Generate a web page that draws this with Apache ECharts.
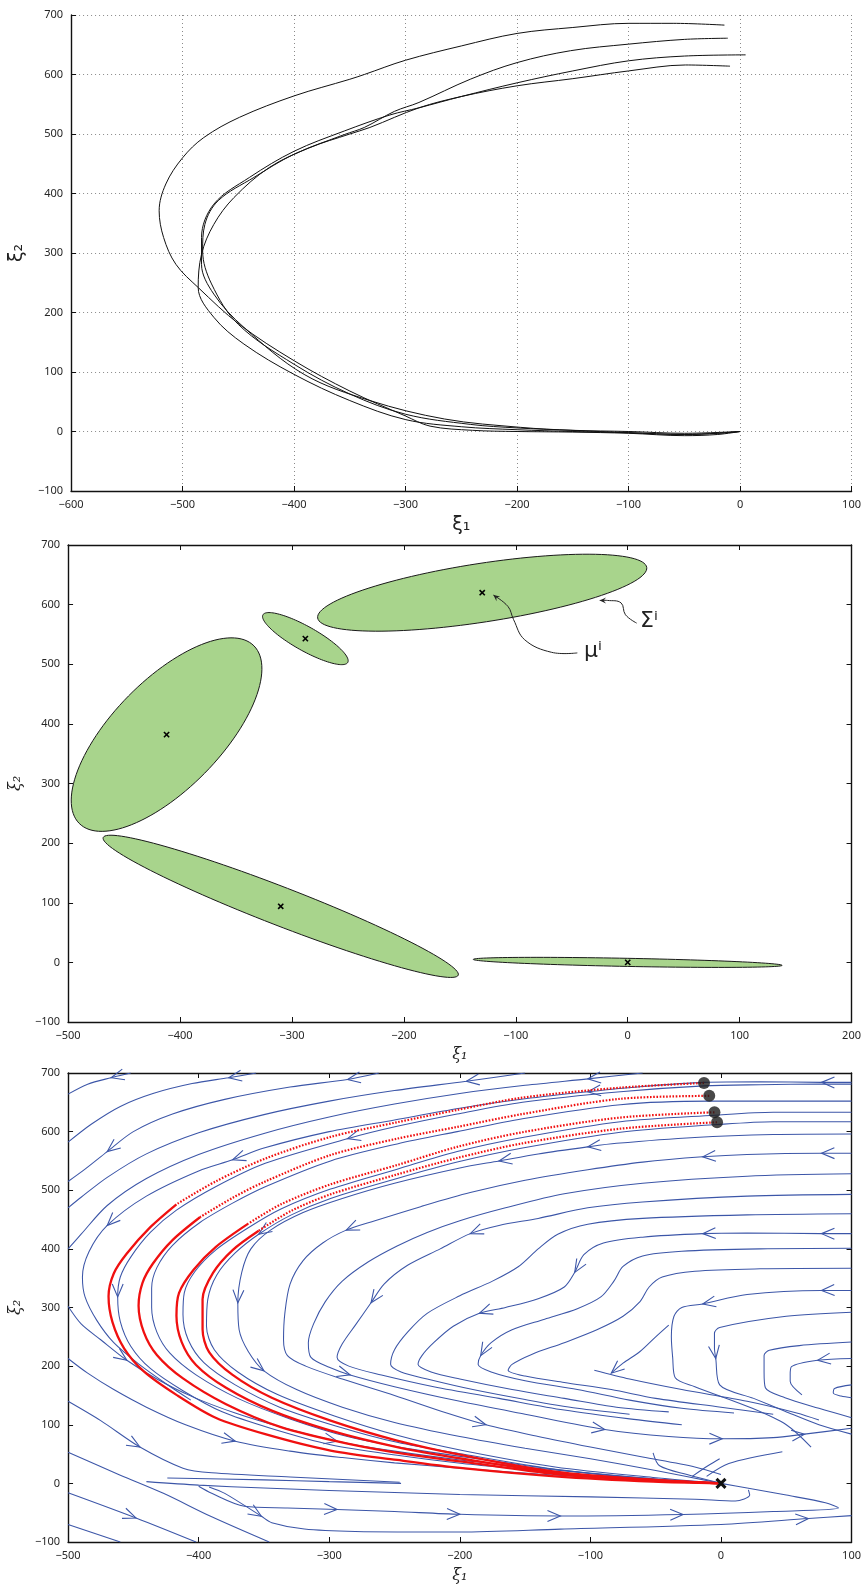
<!DOCTYPE html>
<html>
<head>
<meta charset="utf-8">
<script src="https://cdn.jsdelivr.net/npm/echarts@6/dist/echarts.min.js"></script>
<style>
html,body{margin:0;padding:0;background:#fff}
#c{width:864px;height:1585px}
</style>
</head>
<body>
<div id="c"></div>
<script>
// ===== Panel 1: demonstrated trajectories (xi1, xi2) =====
const demoA = [[-14,683],[-60,686],[-100,686],[-150,679],[-200,669],[-250,648],[-300,624],[-337,600],[-350,592],[-400,564],[-449,528],[-481,494],[-500,460],[-515,416],[-521,371],[-517,326],[-506,281],[-486,242],[-449,180],[-400,119],[-350,68],[-300,26],[-278,9],[-240,2],[-200,0],[-150,-1],[-100,-3],[-50,-7],[-20,-5],[0,0]];
const demoB = [[-11,661],[-50,659],[-100,651],[-152,640],[-200,620],[-242,592],[-288,553],[-310,538],[-337,511],[-355,499],[-400,466],[-436,427],[-468,388],[-480,348],[-482,304],[-474,248],[-450,180],[-400,113],[-350,63],[-300,29],[-242,12],[-200,6],[-152,2],[-100,-2],[-50,-5],[-20,-3],[0,0]];
const demoC = [[5,633],[-50,631],[-100,623],[-150,606],[-200,586],[-250,563],[-288,544],[-314,532],[-355,505],[-400,471],[-440,427],[-472,382],[-483,326],[-483,281],[-472,231],[-445,175],[-391,96],[-332,52],[-265,21],[-197,7],[-150,2],[-100,0],[-50,-3],[0,0]];
const demoD = [[-9,614],[-49,616],[-100,606],[-150,593],[-200,581],[-250,563],[-288,544],[-332,511],[-350,500],[-386,477],[-422,444],[-454,393],[-472,348],[-483,298],[-486,242],[-472,192],[-445,147],[-400,96],[-350,52],[-300,20],[-250,8],[-200,3],[-150,0],[-100,-2],[-50,-5],[-20,-3],[0,0]];
const demos = [demoA, demoB, demoC, demoD];

// ===== Panel 2: Gaussian components (centre, two conjugate semi-axes) =====
const gaussCx = [0, -310, -412, -288, -130];
const gaussCy = [0, 94, 382, 543, 620];
const gaussU = [[138,-5],[158.6,-115.4],[78.1,148.8],[37.9,-39.9],[147,42.4]];
const gaussV = [[0,-6.8],[-6.1,-30.1],[34.0,-64.8],[-5.2,-17.8],[3.8,-48.7]];
const muPath = [[-45,519],[-68,520],[-92,541],[-102,575],[-107,597],[-120,616]];
const sigmaPath = [[8,569],[-2,583],[-6,603],[-18,607],[-25,607]];
const muLabelPos = [-39,521];
const sigmaLabelPos = [11,572];

// ===== Panel 3: reproductions (red) =====
const repro1 = [[-13,683],[-77,675],[-152,658],[-202,637],[-248,616],[-299,591],[-349,554],[-387,515],[-417,476],[-437,437],[-455,392],[-465,358],[-469,319],[-466,275],[-457,230],[-442,191],[-417,151],[-387,112],[-349,84],[-299,56],[-248,40],[-198,26],[-127,12],[-52,3],[0,0]];
const repro2 = [[-9,661],[-77,656],[-152,630],[-202,608],[-248,588],[-299,560],[-349,515],[-374,487],[-399,454],[-420,415],[-435,375],[-443,342],[-446,303],[-442,258],[-432,219],[-412,179],[-379,135],[-337,96],[-286,68],[-236,48],[-198,37],[-127,16],[-52,5],[0,0]];
const repro3 = [[-5,633],[-77,624],[-152,599],[-202,574],[-248,543],[-299,510],[-337,476],[-362,443],[-387,403],[-404,364],[-415,325],[-417,286],[-413,241],[-402,202],[-379,163],[-344,124],[-299,90],[-248,62],[-198,42],[-127,18],[-52,6],[0,0]];
const repro4 = [[-3,616],[-77,605],[-152,580],[-202,555],[-248,527],[-299,493],[-329,465],[-354,431],[-374,398],[-389,359],[-397,314],[-397,263],[-392,224],[-374,185],[-344,146],[-299,107],[-248,73],[-198,48],[-127,20],[-52,6],[0,0]];
const repros = [repro1, repro2, repro3, repro4];
const reproDottedUntil = [8, 8, 7, 7];   // sparse (fast) part drawn dotted
const target = [[0,0]];

// ===== Panel 3: streamlines of the learned field (flow order) =====
const streams = {
  s0: [[-452,700],[-467,692],[-485,681],[-500,664]],
  s1: [[-356,700],[-377,692],[-405,682],[-435,665],[-460,643],[-482,613],[-500,582]],
  s2: [[-262,700],[-286,689],[-330,676],[-380,655],[-420,630],[-450,600],[-470,566],[-487,536],[-500,515]],
  s3: [[-150,700],[-195,686],[-250,670],[-300,652],[-350,629],[-400,598],[-440,562],[-470,522],[-490,488],[-500,470]],
  s4: [[-60,700],[-102,690],[-150,679],[-200,665],[-250,647],[-300,625],[-350,597],[-400,561],[-440,520],[-470,474],[-490,425],[-500,400]],
  v1: [[100,684],[77,684],[30,685],[-13,684],[-60,677],[-102,668],[-150,656],[-200,640],[-250,620],[-300,600],[-350,572],[-374,552],[-400,533],[-440,490],[-470,440],[-484,395],[-489,352],[-487,318],[-478,278],[-465,240],[-445,202],[-425,170],[-406,142]],
  s5: [[-500,302],[-490,272],[-475,245],[-455,210],[-432,178],[-405,148],[-372,120],[-335,95],[-294,72],[-250,55],[-200,40],[-150,28],[-100,17],[-50,7],[0,0]],
  s6: [[-500,213],[-485,188],[-465,160],[-440,130],[-410,100],[-372,72],[-330,55],[-290,44],[-250,35],[-200,26],[-140,16],[-80,8],[-30,3],[0,0]],
  e3: [[-500,140],[-475,107],[-445,62],[-412,26],[-390,18],[-330,11],[-246,2]],
  e4: [[-424,9],[-350,6],[-300,3],[-245,0]],
  e5: [[-440,3],[-400,-3],[-350,-8],[-300,-12],[-200,-19],[-100,-23],[-20,-27],[11,-30],[22,-20],[21,-11]],
  g1: [[-500,-70],[-460,-100]],
  g2: [[-500,-16],[-448,-59],[-402,-100]],
  g3: [[-500,53],[-460,14],[-427,-17],[-390,-57],[-346,-100]],
  g4: [[-400,-5],[-390,-17],[-365,-39],[-332,-42],[-294,-44.5],[-250,-48],[-200,-52.8],[-123,-55.6],[-29,-53],[40,-48],[90,-42],[80,-33],[50,-20],[20,-8],[0,0]],
  g5: [[-392,-6],[-380,-17],[-352,-56],[-344,-67],[-319,-78],[-280,-82],[-200,-83],[-123,-78],[0,-70],[67,-60],[100,-55]],
  b1: [[100,681],[77,681],[30,680],[-13,678],[-77,668],[-152,650],[-202,630],[-248,609],[-286,588],[-349,546],[-387,506],[-417,466],[-437,428],[-452,386],[-460,352],[-462,318],[-460,276],[-452,234],[-437,196],[-412,158],[-382,122],[-345,94],[-299,66],[-248,48],[-198,34],[-150,24],[-60,6],[0,0]],
  b2: [[100,652],[40,652],[-9,652],[-77,646],[-152,622],[-202,600],[-248,579],[-299,550],[-349,506],[-374,478],[-399,445],[-420,406],[-432,368],[-436,333],[-436,300],[-432,258],[-422,222],[-402,185],[-370,145],[-330,110],[-286,80],[-236,58],[-180,40],[-120,22],[-60,8],[0,0]],
  b3: [[100,633],[40,633],[-5,628],[-77,617],[-152,590],[-202,566],[-248,536],[-299,502],[-337,468],[-362,436],[-387,398],[-403,361],[-411,325],[-412,288],[-408,245],[-396,206],[-372,168],[-338,130],[-295,98],[-248,70],[-198,50],[-127,24],[-52,8],[0,0]],
  b4: [[100,617],[40,617],[-3,612],[-77,599],[-152,572],[-202,548],[-248,520],[-299,486],[-329,458],[-354,425],[-372,393],[-386,356],[-393,314],[-394,268],[-388,228],[-370,190],[-340,152],[-296,115],[-248,82],[-198,56],[-127,28],[-52,10],[0,0]],
  b5: [[100,596],[40,595],[-20,590],[-80,580],[-102,574],[-140,562],[-170,550],[-200,538],[-250,512],[-290,486],[-320,462],[-345,432],[-360,400],[-367,360],[-370,308],[-369,262],[-362,225],[-350,192],[-325,160],[-290,130],[-250,104],[-200,80],[-150,60],[-100,42],[-50,22],[0,0]],
  b6: [[100,563],[77,563],[20,561],[-14,557],[-60,548],[-102,535],[-150,517],[-192,496],[-230,472],[-265,448],[-287,432],[-305,410],[-320,380],[-330,340],[-334,290],[-335,245],[-332,218],[-318,200],[-290,178],[-250,150],[-210,120],[-180,100],[-140,80],[-100,62],[-60,45],[-20,28],[0,15]],
  b7: [[100,528],[20,524],[-60,512],[-120,494],[-165,470],[-200,448],[-225,428],[-248,405],[-270,378],[-290,345],[-303,310],[-312,272],[-316,240],[-314,215],[-300,198],[-284,185],[-250,165],[-200,140],[-150,118],[-89,92],[-40,80],[1,76],[40,78],[64,84],[100,94]],
  b8: [[100,493],[20,490],[-60,480],[-102,470],[-140,452],[-170,440],[-192,426],[-215,400],[-240,372],[-258,340],[-268,308],[-280,270],[-290,238],[-294,215],[-285,200],[-260,185],[-220,165],[-170,145],[-120,125],[-70,110],[-30,100]],
  b9: [[100,460],[20,458],[-60,452],[-102,442],[-125,425],[-140,400],[-155,370],[-175,345],[-200,320],[-225,290],[-240,258],[-250,228],[-253,203],[-245,190],[-225,178],[-190,160],[-150,143],[-110,128],[-70,118]],
  b10: [[100,426],[77,426],[20,427],[-14,426],[-60,420],[-90,410],[-105,390],[-112,360],[-120,335],[-140,315],[-165,300],[-185,290],[-205,268],[-220,240],[-229,218],[-232,203],[-222,190],[-200,178],[-160,160],[-120,145],[-80,130],[-40,122]],
  b11: [[100,401],[30,400],[-30,396],[-60,388],[-75,370],[-82,345],[-92,318],[-110,298],[-135,280],[-160,262],[-176,240],[-184,218],[-186,203],[-176,190],[-150,175],[-110,160],[-70,142],[-30,128],[10,120]],
  b12: [[100,367],[30,366],[-20,362],[-45,352],[-55,335],[-62,310],[-75,285],[-95,262],[-120,240],[-145,220],[-160,203],[-163,193],[-150,183],[-120,172],[-84,160],[-50,145],[0,130],[40,118]],
  b13: [[-40,270],[-50,250],[-62,225],[-75,205],[-84,188]],
  b14: [[-97,193],[-70,178],[-30,160],[20,140],[58,120],[75,108]],
  u1: [[100,329],[77,329],[20,322],[-14,306],[-30,300],[-36,285],[-38,250],[-37,215],[-35,180],[-20,165],[24,128],[50,100],[69,62]],
  u2: [[100,292],[50,285],[-1,266],[-5,256],[-5,230],[-4,213],[-1,168],[25,145],[49,123],[75,100],[100,84]],
  u3: [[100,241],[60,235],[37,227],[33,218],[33,190],[34,163],[49,146],[75,128],[100,112]],
  u4: [[100,213],[74,210],[54,199],[53,185],[53,174],[62,151]],
  u5: [[100,168],[87,162],[86,154],[92,149],[100,146]],
  n1: [[-52,52],[-47,30],[-26,15],[0,0]],
  n2: [[-22,12],[-10,30],[-1,42]],
  n3: [[-11,12],[6,34],[47,54]]
};
// direction markers: [stream, vertex]
const flowArrows = [
  ['s0',1],['s1',1],['s2',1],['s2',6],['s3',1],['s4',1],
  ['v1',1],['v1',5],['v1',11],['v1',14],
  ['s5',3],['s5',8],['s6',5],['e3',2],['g2',1],
  ['g4',4],['g4',6],['g4',7],['g4',8],['g5',2],['g5',9],
  ['b1',8],['b1',15],['b4',9],['b5',4],['b5',6],['b5',14],['b5',17],
  ['b6',1],['b6',3],['b6',10],['b7',15],['b7',19],['b7',21],['b7',23],
  ['b8',6],['b8',10],['b10',1],['b10',3],['b10',7],['b10',11],['b11',11],
  ['b6',21],['b13',4],['u1',1],['u1',3],['u2',5],['u4',1]
];

// ---------------------------------------------------------------
const BLUE = '#3c56a8';
const RED = '#f01010';
const tickFont = {fontFamily:'Noto Sans, DejaVu Sans, sans-serif', fontSize:11, color:'#262626'};
const minus = v => String(v).replace('-', '\u2212');
const streamKeys = Object.keys(streams);
const streamList = streamKeys.map(k => streams[k]);

function mainAxis(grid, min, max, extra) {
  return Object.assign({
    gridIndex: grid, type: 'value', min: min, max: max, interval: 100,
    axisLine: {onZero: false, lineStyle: {color: '#111', width: 1.4}},
    axisTick: {inside: true, length: 5, lineStyle: {color: '#111', width: 1}},
    axisLabel: Object.assign({margin: 8, formatter: minus, showMinLabel: true, showMaxLabel: true}, tickFont),
    splitLine: {show: false}
  }, extra || {});
}
function mirrorAxis(grid, min, max, pos) {
  return {
    gridIndex: grid, type: 'value', min: min, max: max, interval: 100, position: pos,
    axisLine: {onZero: false, lineStyle: {color: '#111', width: 1.4}},
    axisTick: {inside: true, length: 5, lineStyle: {color: '#111', width: 1}},
    axisLabel: {show: false}, splitLine: {show: false}
  };
}
const gridDots = {show: true, lineStyle: {type: [1, 3], color: '#8a8a8a', width: 1}};
const serifName = {fontFamily: 'DejaVu Serif, serif', fontStyle: 'italic', fontSize: 16, color: '#222'};
const sansName = {fontFamily: 'DejaVu Sans, sans-serif', fontSize: 19, color: '#222'};

const series = [];

// Panel 1 trajectories
demos.forEach(d => series.push({
  type: 'line', xAxisIndex: 0, yAxisIndex: 0, data: d, showSymbol: false, smooth: 0.35,
  lineStyle: {color: '#111', width: 1}, silent: true, z: 3
}));

// Panel 2 ellipses
series.push({
  type: 'custom', xAxisIndex: 1, yAxisIndex: 1, clip: false, silent: true, z: 2,
  data: gaussCx.map((x, i) => [x, gaussCy[i], i]),
  renderItem: function (params, api) {
    const i = api.value(2);
    const pts = [];
    for (let k = 0; k < 120; k++) {
      const t = k / 120 * Math.PI * 2;
      pts.push(api.coord([
        gaussCx[i] + gaussU[i][0] * Math.cos(t) + gaussV[i][0] * Math.sin(t),
        gaussCy[i] + gaussU[i][1] * Math.cos(t) + gaussV[i][1] * Math.sin(t)
      ]));
    }
    const c = api.coord([gaussCx[i], gaussCy[i]]);
    const m = 2.6;
    return {type: 'group', children: [
      {type: 'polygon', shape: {points: pts}, style: {fill: '#a8d48c', stroke: '#1a1a1a', lineWidth: 1}},
      {type: 'line', shape: {x1: c[0]-m, y1: c[1]-m, x2: c[0]+m, y2: c[1]+m}, style: {stroke: '#000', lineWidth: 1.6}},
      {type: 'line', shape: {x1: c[0]-m, y1: c[1]+m, x2: c[0]+m, y2: c[1]-m}, style: {stroke: '#000', lineWidth: 1.6}}
    ]};
  }
});

// Panel 2 callouts
function callout(path, labelPos, text) {
  return {
    type: 'custom', xAxisIndex: 1, yAxisIndex: 1, clip: false, silent: true, z: 5,
    data: [[labelPos[0], labelPos[1]]],
    renderItem: function (params, api) {
      const pts = path.map(p => api.coord(p));
      const n = pts.length;
      const tip = pts[n-1], prev = pts[n-2];
      let dx = tip[0]-prev[0], dy = tip[1]-prev[1];
      const len = Math.hypot(dx, dy) || 1; dx /= len; dy /= len;
      const L = 7, a = 0.45, c = Math.cos(a), s = Math.sin(a);
      const bx = -dx, by = -dy;
      const h1 = [tip[0] + L*(bx*c - by*s), tip[1] + L*(bx*s + by*c)];
      const h2 = [tip[0] + L*(bx*c + by*s), tip[1] + L*(-bx*s + by*c)];
      const lp = api.coord(labelPos);
      return {type: 'group', children: [
        {type: 'polyline', shape: {points: pts, smooth: 0.4}, style: {stroke: '#222', lineWidth: 1, fill: null}},
        {type: 'polygon', shape: {points: [tip, h1, [tip[0]+0.55*L*bx, tip[1]+0.55*L*by], h2]}, style: {fill: '#222'}},
        {type: 'text', x: lp[0], y: lp[1], style: {text: text, fontFamily: 'DejaVu Sans, sans-serif', fontSize: 22, fill: '#222', textAlign: 'left', textVerticalAlign: 'middle'}}
      ]};
    }
  };
}
series.push(callout(muPath, muLabelPos, '\u03bc\u2071'));
series.push(callout(sigmaPath, sigmaLabelPos, '\u03a3\u2071'));

// Panel 3 streamlines
streamList.forEach(d => series.push({
  type: 'line', xAxisIndex: 3, yAxisIndex: 3, data: d, showSymbol: false, smooth: 0.3,
  lineStyle: {color: BLUE, width: 1.05}, silent: true, z: 2
}));
// Panel 3 flow arrows
series.push({
  type: 'custom', xAxisIndex: 3, yAxisIndex: 3, clip: false, silent: true, z: 2,
  data: flowArrows.map(([k, i]) => [streamKeys.indexOf(k), i]),
  renderItem: function (params, api) {
    const line = streamList[api.value(0)], k = api.value(1);
    const p = api.coord(line[k]);
    const a = api.coord(line[Math.max(k-1, 0)]);
    const b = api.coord(line[Math.min(k+1, line.length-1)]);
    let dx = b[0]-a[0], dy = b[1]-a[1];
    const n = Math.hypot(dx, dy) || 1; dx /= n; dy /= n;
    const L = 14, ang = 0.4, c = Math.cos(ang), s = Math.sin(ang);
    const bx = -dx, by = -dy;
    const l1 = [p[0] + L*(bx*c - by*s), p[1] + L*(bx*s + by*c)];
    const l2 = [p[0] + L*(bx*c + by*s), p[1] + L*(-bx*s + by*c)];
    return {type: 'polyline', shape: {points: [l1, p, l2]}, style: {stroke: BLUE, lineWidth: 1.1, fill: null}};
  }
});
// Panel 3 reproductions
repros.forEach((r, i) => {
  const cut = reproDottedUntil[i];
  series.push({
    type: 'line', xAxisIndex: 3, yAxisIndex: 3, data: r.slice(0, cut + 1), showSymbol: false, smooth: 0.3,
    lineStyle: {color: RED, width: 2.2, type: [1.6, 1.6]}, silent: true, z: 4
  });
  series.push({
    type: 'line', xAxisIndex: 3, yAxisIndex: 3, data: r.slice(cut), showSymbol: false, smooth: 0.3,
    lineStyle: {color: RED, width: 2.3}, silent: true, z: 4
  });
});
// start points
series.push({
  type: 'scatter', xAxisIndex: 3, yAxisIndex: 3, data: repros.map(r => r[0]),
  symbol: 'circle', symbolSize: 12, itemStyle: {color: '#1b1b1b'}, silent: true, z: 6
});
// attractor
series.push({
  type: 'custom', xAxisIndex: 3, yAxisIndex: 3, clip: false, silent: true, z: 7, data: target,
  renderItem: function (params, api) {
    const c = api.coord([api.value(0), api.value(1)]), m = 4.5;
    return {type: 'group', children: [
      {type: 'line', shape: {x1: c[0]-m, y1: c[1]-m, x2: c[0]+m, y2: c[1]+m}, style: {stroke: '#111', lineWidth: 3}},
      {type: 'line', shape: {x1: c[0]-m, y1: c[1]+m, x2: c[0]+m, y2: c[1]-m}, style: {stroke: '#111', lineWidth: 3}}
    ]};
  }
});

const option = {
  animation: false,
  backgroundColor: '#fff',
  grid: [
    {left: 63, top: 15, width: 794, height: 476},
    {left: 61, top: 545, width: 795, height: 477},
    {left: 61, top: 1073, width: 795, height: 477}
  ],
  xAxis: [
    mainAxis(0, -600, 100, {splitLine: gridDots, name: '\u03be\u2081', nameLocation: 'middle', nameGap: 25, nameTextStyle: sansName}),
    mainAxis(1, -500, 200, {name: '\u03be\u2081', nameLocation: 'middle', nameGap: 25, nameTextStyle: serifName}),
    mirrorAxis(1, -500, 200, 'top'),
    mainAxis(2, -500, 100, {name: '\u03be\u2081', nameLocation: 'middle', nameGap: 26, nameTextStyle: serifName}),
    mirrorAxis(2, -500, 100, 'top')
  ],
  yAxis: [
    mainAxis(0, -100, 700, {splitLine: gridDots, name: '\u03be\u2082', nameLocation: 'middle', nameGap: 30, nameTextStyle: sansName}),
    mainAxis(1, -100, 700, {name: '\u03be\u2082', nameLocation: 'middle', nameGap: 36, nameTextStyle: serifName}),
    mirrorAxis(1, -100, 700, 'right'),
    mainAxis(2, -100, 700, {name: '\u03be\u2082', nameLocation: 'middle', nameGap: 36, nameTextStyle: serifName}),
    mirrorAxis(2, -100, 700, 'right')
  ],
  series: series
};

const chart = echarts.init(document.getElementById('c'), null, {renderer: 'canvas'});
chart.setOption(option);
</script>
</body>
</html>
